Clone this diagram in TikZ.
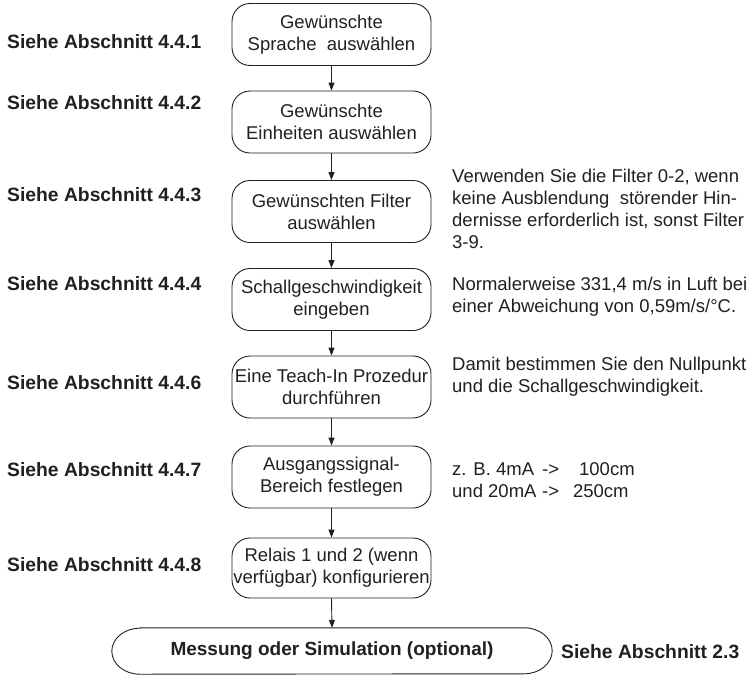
\documentclass[tikz,border=0pt]{standalone}
\usepackage{fontspec}
\setmainfont{Liberation Sans}
\usetikzlibrary{arrows.meta}
\definecolor{ink}{HTML}{231F20}
\tikzset{
  stepbox/.style={draw=ink, line width=0.9pt, rounded corners=18pt, minimum width=199pt, minimum height=62pt, inner sep=0pt, align=center, text=ink, font=\fontsize{18.5}{22}\selectfont},
  ref/.style={anchor=west, inner sep=0pt, text=ink, font=\fontsize{19.3}{22}\selectfont\bfseries},
  note/.style={anchor=north west, inner sep=0pt, align=left, text=ink, font=\fontsize{18.5}{22}\selectfont},
  flow/.style={draw=ink, line width=0.9pt, -{Triangle[length=8pt,width=6pt]}}
}
\begin{document}
\begin{tikzpicture}[x=1pt,y=-1pt]
\useasboundingbox (0,0) rectangle (749,675);
% boxes
\node[stepbox] (b1) at (331.5,34.5) {Gewünschte\\Sprache\ \ auswählen};
\node[stepbox] (b2) at (331.5,122) {Gewünschte\\Einheiten auswählen};
\node[stepbox] (b3) at (331.5,211.5) {Gewünschten Filter\\auswählen};
\node[stepbox] (b4) at (331.5,299.5) {Schallgeschwindigkeit\\eingeben};
\node[stepbox] (b5) at (331.5,387) {Eine Teach-In Prozedur\\durchführen};
\node[stepbox] (b6) at (331.5,477) {Ausgangssignal-\\Bereich festlegen};
\node[stepbox, minimum height=60pt] (b7) at (331.5,568) {Relais 1 und 2 (wenn\\verfügbar) konfigurieren};
% final terminal
\node[minimum width=440pt, minimum height=46pt, inner sep=0pt, text=ink, font=\fontsize{19}{22}\selectfont\bfseries] (fin) at (332,651) {Messung oder Simulation (optional)};
\draw[ink, line width=0.9pt]
  ([xshift=28pt]fin.north west) -- ([xshift=-28pt]fin.north east)
  arc[start angle=90, end angle=-90, x radius=28pt, y radius=23pt]
  -- ([xshift=28pt]fin.south west)
  arc[start angle=270, end angle=90, x radius=28pt, y radius=23pt] -- cycle;
% connectors
\draw[flow] (b1) -- (b2);
\draw[flow] (b2) -- (b3);
\draw[flow] (b3) -- (b4);
\draw[flow] (b4) -- (b5);
\draw[flow] (b5) -- (b6);
\draw[flow] (b6) -- (b7);
\draw[flow] (b7.south) -- (fin.north);
% left references
\node[ref] (r1) at (7,42) {Siehe Abschnitt 4.4.1};
\node[ref] (r2) at (7,103) {Siehe Abschnitt 4.4.2};
\node[ref] (r3) at (7,195) {Siehe Abschnitt 4.4.3};
\node[ref] (r4) at (7,284) {Siehe Abschnitt 4.4.4};
\node[ref] (r5) at (7,383) {Siehe Abschnitt 4.4.6};
\node[ref] (r6) at (7,470) {Siehe Abschnitt 4.4.7};
\node[ref] (r7) at (7,565) {Siehe Abschnitt 4.4.8};
\node[ref] (r8) at (561,652) {Siehe Abschnitt 2.3};
% notes
\node[note] (n1) at (452,168.5) {Verwenden Sie die Filter 0-2, wenn\\keine Ausblendung\ \ störender Hin-\\dernisse erforderlich ist, sonst Filter\\3-9.};
\node[note] (n2) at (452,276.5) {Normalerweise 331,4 m/s in Luft bei\\einer Abweichung von 0,59m/s/°C.};
\node[note] (n3) at (452,356.5) {Damit bestimmen Sie den Nullpunkt\\und die Schallgeschwindigkeit.};
\node[note] (n4) at (452,462.7) {\makebox[90pt][l]{z. B. 4mA}->\hspace{20pt}100cm\\\makebox[90pt][l]{und 20mA}->\hspace{14pt}250cm};
\end{tikzpicture}
\end{document}
